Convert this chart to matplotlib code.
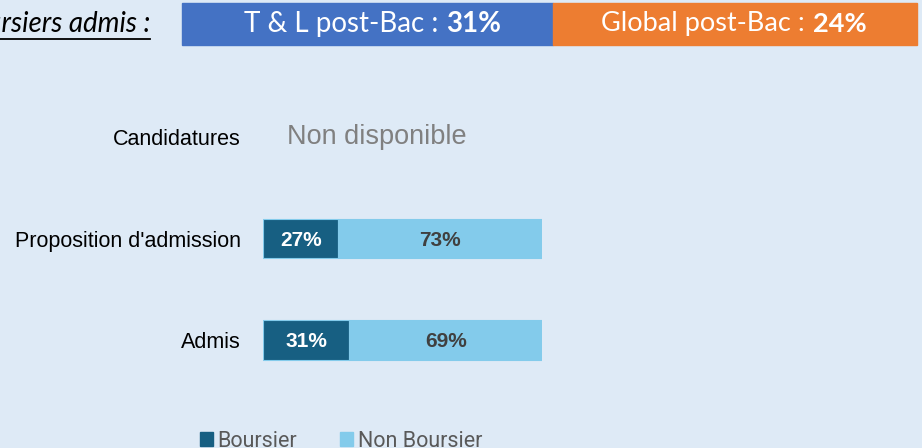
import matplotlib.pyplot as plt
from matplotlib.patches import Rectangle

# data
categories = ["Admis", "Proposition d'admission", "Candidatures"]
boursier = [0.31, 0.27, None]
non_boursier = [0.69, 0.73, None]
header_left = ("T & L post-Bac : ", "31%")
header_right = ("Global post-Bac : ", "24%")
header_title = "Taux de boursiers admis :"

bg = '#DEEAF6'
dark = '#175F82'
light = '#83CBEB'

fig = plt.figure(figsize=(9.22, 4.48), dpi=100)
fig.patch.set_facecolor(bg)

# main axes: 0..1 maps to the bar span
ax = fig.add_axes([263 / 922, 1 - 416 / 448, 279 / 922, 355 / 448])
ax.set_facecolor('none')
ax.set_xlim(0, 1)
ax.set_ylim(-0.75, 2.75)
for s in ax.spines.values():
    s.set_visible(False)
ax.set_xticks([])
ax.set_yticks(range(len(categories)))
ax.set_yticklabels(categories, fontsize=15.5, family='Liberation Sans')
ax.tick_params(axis='y', length=0, pad=16)

h = 0.39
for i, (b, nb) in enumerate(zip(boursier, non_boursier)):
    if b is None:
        ax.text(0.085, i, "Non disponible", fontsize=19.5, color='#808080',
                va='center', ha='left', family='Liberation Sans')
        continue
    ax.barh(i, b, height=h, color=dark, edgecolor=light, linewidth=0.8)
    ax.barh(i, nb, left=b, height=h, color=light, edgecolor=light, linewidth=0.8)
    ax.text(b / 2, i, f"{b:.0%}", color='white', fontsize=15, fontweight='bold',
            ha='center', va='center_baseline', family='Liberation Sans')
    ax.text(b + nb / 2, i, f"{nb:.0%}", color='#404040', fontsize=15, fontweight='bold',
            ha='center', va='center_baseline', family='Liberation Sans')

# header boxes
fig.patches.append(Rectangle((182 / 922, 1 - 45 / 448), 371 / 922, 42 / 448,
                             transform=fig.transFigure, color='#4472C4', zorder=0))
fig.patches.append(Rectangle((553 / 922, 1 - 45 / 448), 364 / 922, 42 / 448,
                             transform=fig.transFigure, color='#ED7D31', zorder=0))

ty = 1 - 24 / 448
fig.text(445 / 922, ty, header_left[0], color='white', fontsize=20,
         ha='right', va='center', family='Lato')
fig.text(446 / 922, ty, header_left[1], color='white', fontsize=20,
         fontweight='bold', ha='left', va='center', family='Lato')
fig.text(812 / 922, ty, header_right[0], color='white', fontsize=19.5,
         ha='right', va='center', family='Lato')
fig.text(813 / 922, ty, header_right[1], color='white', fontsize=19.5,
         fontweight='bold', ha='left', va='center', family='Lato')
fig.text(150 / 922, ty, header_title, color='black', fontsize=20,
         style='italic', ha='right', va='center', family='Lato')
ax.plot([0, 150 / 922], [1 - 39 / 448] * 2, color='black', lw=1.3,
        transform=fig.transFigure, clip_on=False)

# legend
handles = [Rectangle((0, 0), 1, 1, color=dark), Rectangle((0, 0), 1, 1, color=light)]
fig.legend(handles, ['Boursier', 'Non Boursier'], loc='center left',
           bbox_to_anchor=(181 / 922, 1 - 441 / 448), ncol=2, frameon=False,
           handlelength=0.6, handleheight=0.6, handletextpad=0.2, columnspacing=2.0,
           prop={'family': 'Roboto', 'size': 15.5}, labelcolor='#595959')

fig.savefig('out.png', dpi=100, facecolor=bg)
